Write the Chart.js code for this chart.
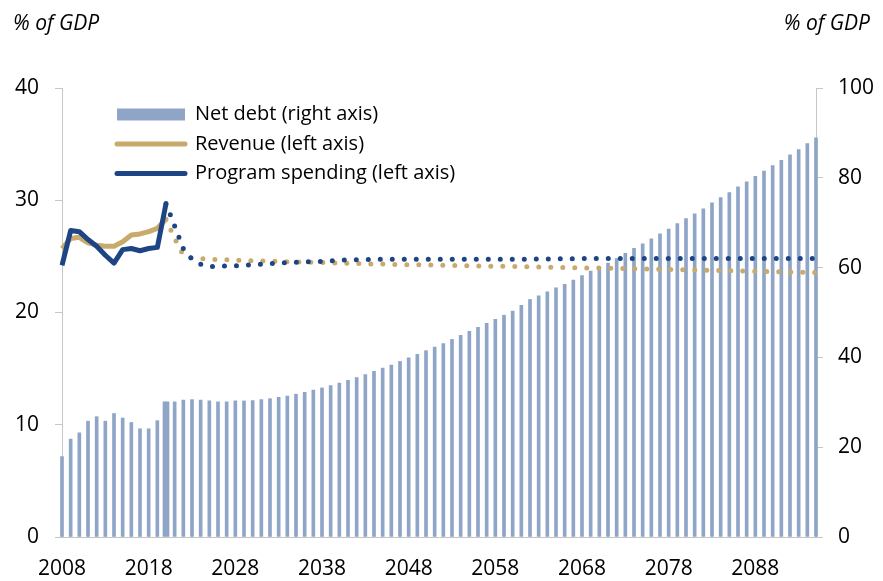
<!DOCTYPE html>
<html>
<head>
<meta charset="utf-8">
<script src="https://cdn.jsdelivr.net/npm/chart.js@4.4.1/dist/chart.umd.min.js"></script>
<style>
	body { margin: 0; background: #ffffff; }
</style>
</head>
<body>
<canvas id="debt-chart" width="883" height="581"></canvas>
<script>
// years on the x axis
const years = [];
for (let y = 2008; y <= 2095; y++) years.push(y);

const yearTicks = [2008, 2018, 2028, 2038, 2048, 2058, 2068, 2078, 2088];
const leftTicks = [0, 10, 20, 30, 40];
const rightTicks = [0, 20, 40, 60, 80, 100];

// net debt, % of GDP (right axis)
const debtHist = [17.9, 21.8, 23.2, 25.8, 26.8, 25.8, 27.5, 26.5, 25.5, 24.1, 24.1, 25.9, 30.1];
const debtProj = [
	30.1, 30.1, 30.5, 30.6, 30.5, 30.3, 30.1, 30.1, 30.3, 30.3,
	30.4, 30.6, 30.8, 31.1, 31.4, 31.8, 32.2, 32.7, 33.2, 33.7,
	34.3, 34.9, 35.5, 36.2, 36.9, 37.6, 38.3, 39.1, 39.9, 40.7,
	41.5, 42.3, 43.1, 44.0, 44.9, 45.8, 46.7, 47.6, 48.5, 49.4,
	50.3, 51.6, 52.9, 53.7, 54.6, 55.5, 56.3, 57.2, 58.2, 59.2,
	60.1, 61.0, 62.0, 63.2, 64.3, 65.3, 66.4, 67.5, 68.6, 69.8,
	70.9, 72.0, 73.1, 74.4, 75.6, 76.7, 78.0, 79.1, 80.3, 81.5,
	82.7, 83.9, 85.1, 86.3, 87.6, 88.9
];

// revenue, % of GDP (left axis)
const revenueHist = [25.7, 26.6, 26.7, 26.2, 26.0, 25.9, 25.9, 26.3, 26.9, 27.0, 27.2, 27.5, 28.3];
const revenueProj = [
	28.3, 26.6, 25.1, 24.83, 24.8, 24.75, 24.72, 24.69, 24.66, 24.63,
	24.61, 24.59, 24.57, 24.55, 24.53, 24.51, 24.49, 24.47, 24.45, 24.43,
	24.4, 24.38, 24.36, 24.34, 24.32, 24.31, 24.29, 24.28, 24.26, 24.25,
	24.24, 24.22, 24.21, 24.19, 24.18, 24.17, 24.15, 24.14, 24.12, 24.11,
	24.1, 24.08, 24.07, 24.05, 24.04, 24.03, 24.01, 24.0, 23.98, 23.97,
	23.96, 23.94, 23.93, 23.91, 23.9, 23.88, 23.86, 23.85, 23.83, 23.82,
	23.8, 23.78, 23.77, 23.75, 23.74, 23.72, 23.7, 23.69, 23.67, 23.66,
	23.64, 23.62, 23.61, 23.59, 23.58, 23.56
];

// program spending, % of GDP (left axis)
const spendingHist = [24.2, 27.3, 27.2, 26.5, 25.9, 25.1, 24.4, 25.6, 25.7, 25.5, 25.7, 25.8, 29.7];
const spendingProj = [
	29.7, 27.7, 25.7, 24.75, 24.3, 24.1, 24.1, 24.15, 24.15, 24.2,
	24.25, 24.3, 24.35, 24.4, 24.45, 24.47, 24.5, 24.53, 24.56, 24.6,
	24.65, 24.68, 24.7, 24.72, 24.74, 24.74, 24.74, 24.75, 24.75, 24.75,
	24.75, 24.75, 24.75, 24.75, 24.75, 24.75, 24.75, 24.75, 24.75, 24.75,
	24.75, 24.75, 24.75, 24.76, 24.77, 24.78, 24.79, 24.8, 24.8, 24.8,
	24.8, 24.8, 24.8, 24.8, 24.8, 24.8, 24.8, 24.8, 24.8, 24.8,
	24.8, 24.8, 24.8, 24.8, 24.8, 24.8, 24.8, 24.8, 24.8, 24.8,
	24.8, 24.8, 24.8, 24.8, 24.8, 24.8
];

const FONT = "'Open Sans', 'Noto Sans', sans-serif";
const BAR = "#8fa5c7";
const GOLD = "#c8aa6c";
const NAVY = "#1d4585";
const AXIS = "#c6c6c6";

// projections start at 2020, pad the front with nulls
function fromYear(start, values) {
	const out = [];
	for (let i = 0; i < start - years[0]; i++) out.push(null);
	return out.concat(values);
}

const unitTitles = {
	id: 'unitTitles',
	afterDraw(chart) {
		const ctx = chart.ctx;
		ctx.save();
		ctx.font = "italic 21px " + FONT;
		ctx.fillStyle = "#000";
		ctx.textBaseline = "middle";
		ctx.textAlign = "left";
		ctx.fillText("% of GDP", 13, 24);
		ctx.textAlign = "right";
		ctx.fillText("% of GDP", 870, 24);
		ctx.restore();
	}
};

// move the legend block into the top-left of the plot
const legendShift = {
	id: 'legendShift',
	afterLayout(chart) {
		const lg = chart.legend;
		const h = lg.bottom - lg.top;
		lg.left = chart.chartArea.left + 45.5;
		lg.top = chart.chartArea.top + 7;
		lg.bottom = lg.top + h;
	}
};

function createDebtChart() {
	const canvas = document.querySelector("#debt-chart");
	const options = {
		type: 'bar',
		data: {
			labels: years,
			datasets: [
				{
					label: "Program spending (left axis)",
					type: 'line',
					data: spendingHist,
					borderColor: NAVY,
					borderWidth: 5,
					borderJoinStyle: 'round',
					pointRadius: 0,
					tension: 0,
					yAxisID: 'y',
					order: 1
				},
				{
					label: "Program spending projection",
					type: 'line',
					data: fromYear(2020, spendingProj),
					borderColor: NAVY,
					borderWidth: 5,
					borderDash: [0, 12],
					borderCapStyle: 'round',
					pointRadius: 0,
					tension: 0,
					yAxisID: 'y',
					order: 1
				},
				{
					label: "Revenue (left axis)",
					type: 'line',
					data: revenueHist,
					borderColor: GOLD,
					borderWidth: 5,
					borderJoinStyle: 'round',
					pointRadius: 0,
					tension: 0,
					yAxisID: 'y',
					order: 2
				},
				{
					label: "Revenue projection",
					type: 'line',
					data: fromYear(2020, revenueProj),
					borderColor: GOLD,
					borderWidth: 5,
					borderDash: [0, 12],
					borderCapStyle: 'round',
					pointRadius: 0,
					tension: 0,
					yAxisID: 'y',
					order: 2
				},
				{
					label: "Net debt (right axis)",
					data: debtHist,
					backgroundColor: BAR,
					barThickness: 3,
					skipNull: true,
					clip: false,
					yAxisID: 'y1',
					order: 3
				},
				{
					label: "Net debt projection",
					data: fromYear(2020, debtProj),
					backgroundColor: BAR,
					barThickness: 3,
					skipNull: true,
					clip: false,
					yAxisID: 'y1',
					order: 3
				}
			]
		},
		options: {
			responsive: false,
			animation: false,
			layout: {
				padding: { top: 88, left: 0, right: 0, bottom: 0 }
			},
			scales: {
				x: {
					offset: false,
					grid: { display: false },
					border: { color: AXIS },
					ticks: {
						autoSkip: false,
						maxRotation: 0,
						padding: 11,
						color: "#000",
						font: { family: FONT, size: 21 },
						callback: function(v, i) {
							return yearTicks.includes(years[i]) ? String(years[i]) : '';
						}
					},
					afterFit: function(s) { s.height = 44; }
				},
				y: {
					position: 'left',
					min: 0,
					max: 40,
					afterBuildTicks: function(s) { s.ticks = leftTicks.map(v => ({ value: v })); },
					grid: { drawOnChartArea: false, tickLength: 7, color: AXIS },
					border: { color: AXIS },
					ticks: { padding: 16, color: "#000", font: { family: FONT, size: 21 } },
					afterFit: function(s) { s.width = 62; }
				},
				y1: {
					position: 'right',
					min: 0,
					max: 100,
					afterBuildTicks: function(s) { s.ticks = rightTicks.map(v => ({ value: v })); },
					grid: { drawOnChartArea: false, tickLength: 7, color: AXIS },
					border: { color: AXIS },
					ticks: { padding: 15, crossAlign: 'near', color: "#000", font: { family: FONT, size: 21 } },
					afterFit: function(s) { s.width = 67; }
				}
			},
			plugins: {
				tooltip: { enabled: false },
				legend: {
					position: 'chartArea',
					align: 'start',
					labels: {
						usePointStyle: true,
						pointStyleWidth: 68,
						boxHeight: 12,
						padding: 9.5,
						color: "#000",
						font: { family: FONT, size: 20 },
						generateLabels: function(chart) {
							return [
								{ text: "Net debt (right axis)", fillStyle: BAR, strokeStyle: BAR, lineWidth: 0, pointStyle: 'rect', datasetIndex: 4 },
								{ text: "Revenue (left axis)", fillStyle: GOLD, strokeStyle: GOLD, lineWidth: 5, lineCap: 'round', pointStyle: 'line', datasetIndex: 2 },
								{ text: "Program spending (left axis)", fillStyle: NAVY, strokeStyle: NAVY, lineWidth: 5, lineCap: 'round', pointStyle: 'line', datasetIndex: 0 }
							];
						}
					}
				}
			}
		},
		plugins: [unitTitles, legendShift]
	};
	const chart = new Chart(canvas.getContext("2d"), options);
}

createDebtChart();
</script>
</body>
</html>
